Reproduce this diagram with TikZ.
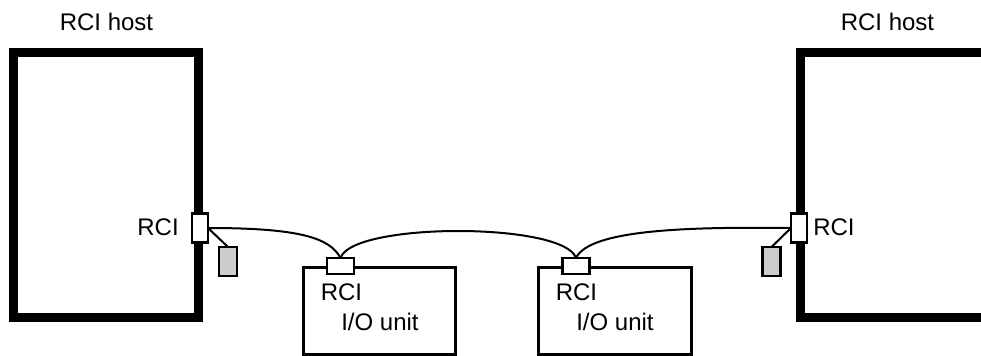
\documentclass[tikz,border=0pt]{standalone}
\usepackage{fontspec}
\setmainfont{Liberation Sans}
\begin{document}
\begin{tikzpicture}[x=0.75pt,y=-0.75pt,
  host/.style={line width=6.75pt, line join=miter},
  unitbox/.style={line width=2.25pt},
  hostport/.style={draw, fill=white, line width=1.9pt, minimum width=12pt, minimum height=21.75pt, inner sep=0pt, outer sep=0pt},
  unitport/.style={draw, fill=white, line width=1.9pt, minimum width=20.25pt, minimum height=12pt, inner sep=0pt, outer sep=0pt},
  plug/.style={draw, fill=black!20, line width=1.9pt, minimum width=13.5pt, minimum height=21.75pt, inner sep=0pt, outer sep=0pt},
  cable/.style={line width=1.5pt},
  lbl/.style={inner sep=0pt, font=\fontsize{18}{21}\selectfont}]
\useasboundingbox (0,0) rectangle (981,356);
\clip (0,0) rectangle (981,356);
% hosts
\draw[host] (13.5,52.5) rectangle (198.5,317.5);
\draw[host] (1000,52.5) -- (800.5,52.5) -- (800.5,317.5) -- (1000,317.5);
\node[lbl, anchor=base] (hostLlbl) at (106.5,30.5) {RCI host};
\node[lbl, anchor=base] (hostRlbl) at (887.5,30.5) {RCI host};
% I/O units
\draw[unitbox] (303,267) rectangle (455,354);
\draw[unitbox] (538,267) rectangle (691,354);
\node[lbl, anchor=base west] (u1rci) at (320.5,300.5) {RCI};
\node[lbl, anchor=base west] (u1lbl) at (341,330) {I/O unit};
\node[lbl, anchor=base west] (u2rci) at (555.5,300.5) {RCI};
\node[lbl, anchor=base west] (u2lbl) at (576,330) {I/O unit};
% ports
\node[hostport] (pL) at (200,228) {};
\node[hostport] (pR) at (799,228) {};
\node[unitport] (p1) at (340.5,266) {};
\node[unitport] (p2) at (576,266) {};
\node[plug] (gL) at (228,261.5) {};
\node[plug] (gR) at (771.5,261.5) {};
\node[lbl, anchor=base east] (pLlbl) at (179,235) {RCI};
\node[lbl, anchor=base west] (pRlbl) at (813,235) {RCI};
% connectors
\draw[cable] (pL.east) .. controls (300,228) and (330,238) .. (p1.north);
\draw[cable] (p1.north) .. controls (352,222) and (564,222) .. (p2.north);
\draw[cable] (p2.north) .. controls (590,228) and (700,227) .. (pR.west);
\draw[cable] (pL.east) -- (gL.north);
\draw[cable] (pR.west) -- (gR.north);
\end{tikzpicture}
\end{document}
